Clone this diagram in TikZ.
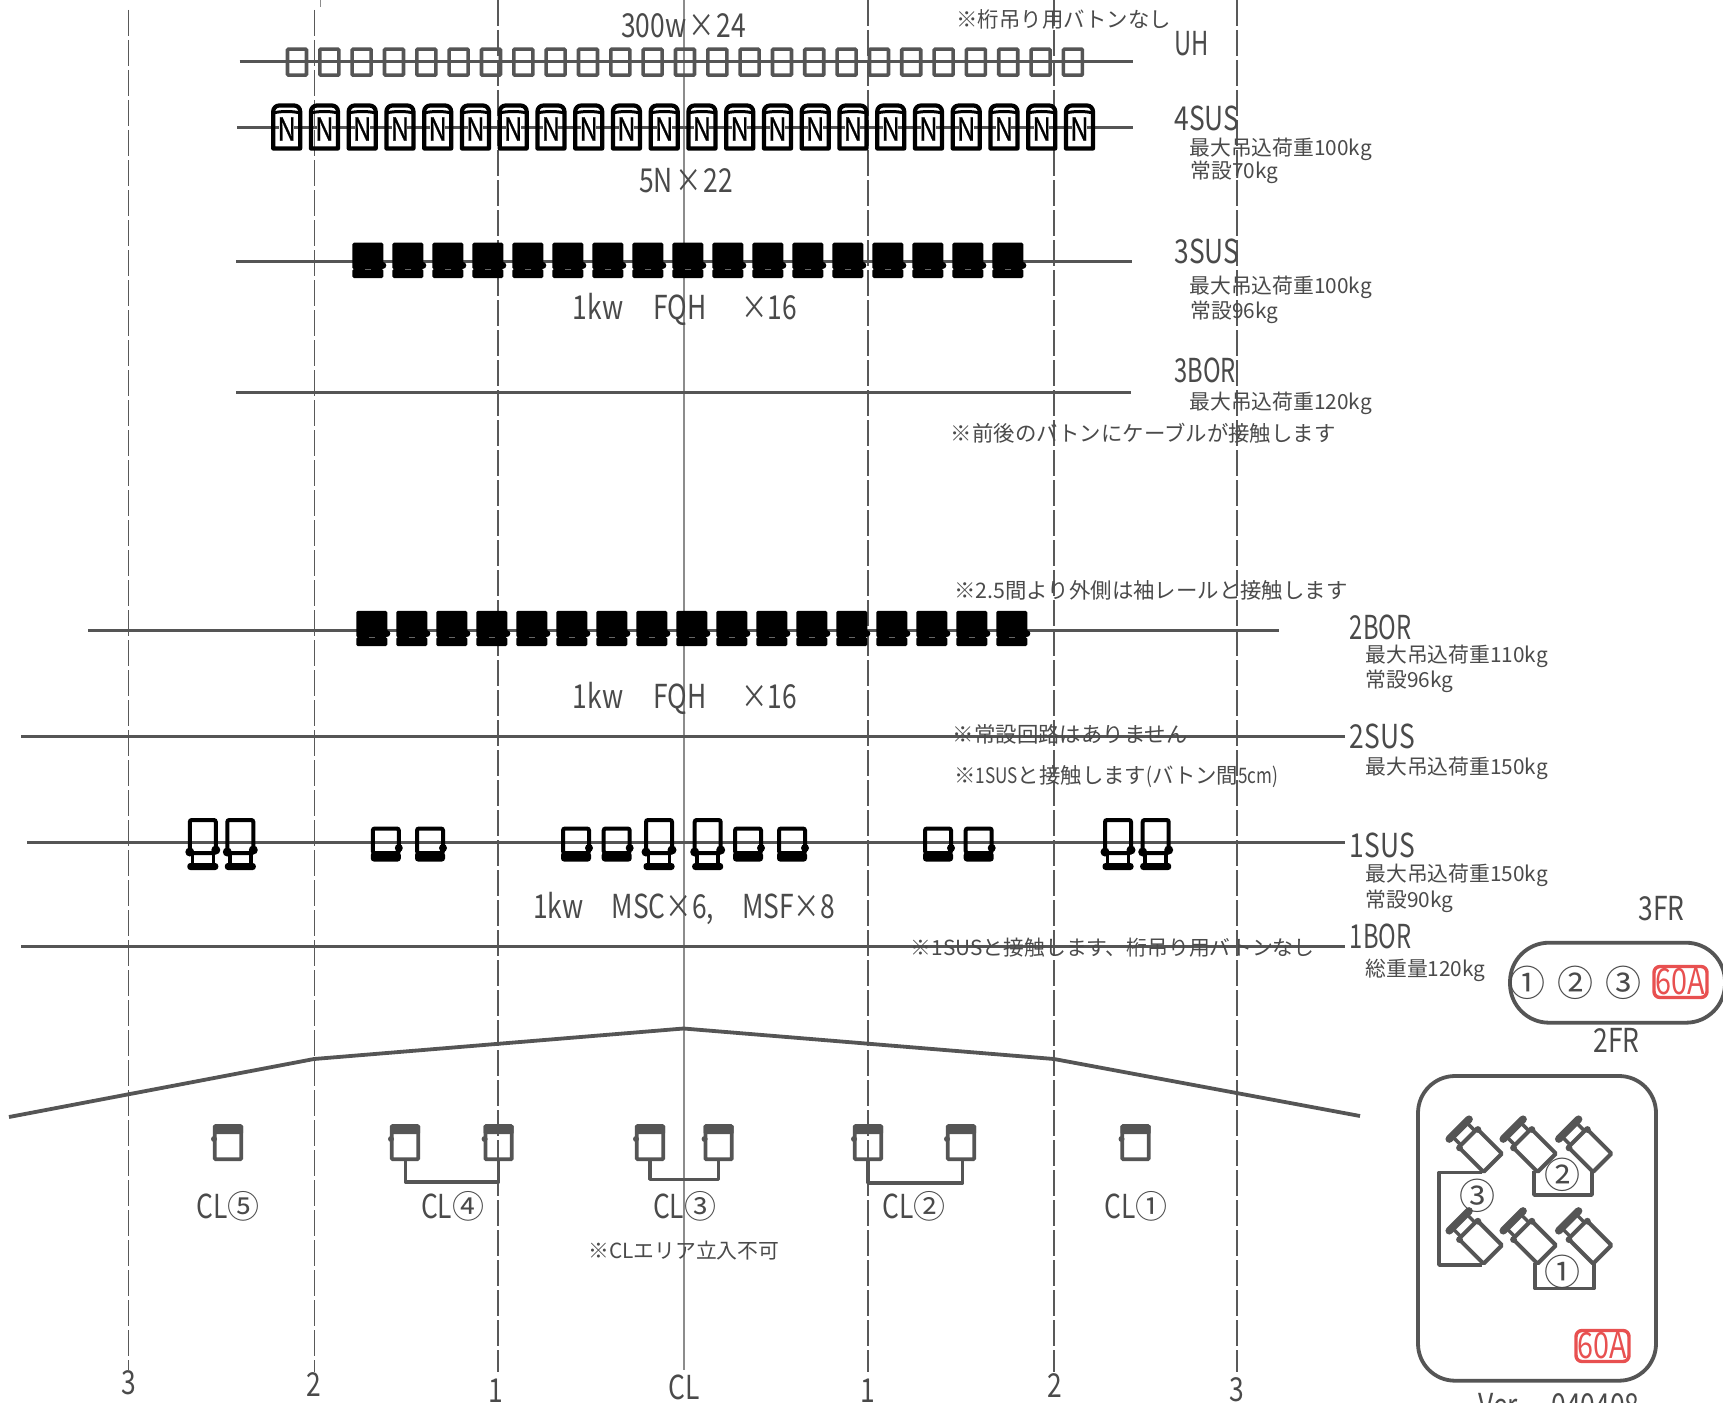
\documentclass[tikz,border=0pt]{standalone}
\usepackage{fontspec}
\newfontfamily\jpn{Noto Sans CJK JP}
\newfontfamily\jpw[FakeStretch=0.8]{Noto Sans CJK JP}
\newfontfamily\jpv[FakeStretch=0.72]{Noto Sans CJK JP}
\newfontfamily\jpb[FakeStretch=0.8,FakeBold=0.6]{Noto Sans CJK JP}
\definecolor{ink}{HTML}{4A4A4A}
\definecolor{lineink}{HTML}{555555}
\definecolor{warn}{HTML}{E85050}
\newcommand{\circd}[1]{{\jpn\fontsize{16}{16}\selectfont #1}}
\newcommand{\tms}{\hspace{1pt}×\hspace{1pt}}
\newcommand{\nrw}[1]{{\jpw\fontsize{10.7}{10.7}\selectfont #1}}
\tikzset{
  x=0.5pt,y=-0.5pt,
  big/.style={font=\jpw\fontsize{16.5}{16.5}\selectfont,text=ink,inner sep=0pt},
  bign/.style={font=\jpv\fontsize{16.5}{16.5}\selectfont,text=ink,inner sep=0pt},
  small/.style={font=\jpn\fontsize{10.4}{10.4}\selectfont,text=ink,inner sep=0pt},
  notetxt/.style={font=\jpn\fontsize{10.7}{10.7}\selectfont,text=ink,inner sep=0pt},
  circ/.style={font=\jpn\fontsize{18}{18}\selectfont,text=ink,inner sep=0pt},
  amp/.style={font=\jpw\fontsize{18}{18}\selectfont,text=warn,draw=warn,line width=1.7pt,rounded corners=3pt,inner sep=0pt,minimum width=26.5pt,minimum height=15.5pt},
  batten/.style={draw=lineink,line width=1.5pt},
  axisline/.style={draw=black!65,line width=0.7pt,dash pattern=on 13pt off 2pt},
  centreline/.style={draw=black!45,line width=0.7pt},
  wire/.style={draw=lineink,line width=1.8pt,line join=round},
  frameline/.style={draw=lineink,line width=1.9pt},
  uhbox/.pic={\draw[lineink,line width=1.8pt,rounded corners=0.5pt] (-9.5,-13) rectangle (9.5,13);},
  nunit/.pic={
    \draw[black,line width=2.1pt,line join=round] (-13.5,21.5) [rounded corners=3pt] -- (-13.5,-21.5) -- (13.5,-21.5) [sharp corners] -- (13.5,21.5) -- cycle;
    \draw[black,line width=1.5pt] (-13.5,-14) .. controls (-6,-16) and (6,-16) .. (13.5,-14);
    \fill[white] (-7.5,-11) rectangle (7.5,14.5);
    \node[font=\jpb\fontsize{16}{16}\selectfont,text=black,inner sep=0pt] (lab) at (0,2) {N};
  },
  fqh/.pic={
    \fill[black,rounded corners=0.8pt] (-15.5,-17.7) rectangle (15.5,9);
    \fill[black,rounded corners=0.8pt] (-15.5,8.5) rectangle (15.5,17.7);
    \fill[black] (15,5) circle (3.5);
    \draw[black!60,line width=0.3pt] (-3,8.8) -- (3,8.8);
  },
  tallunit/.pic={
    \draw[black,line width=2pt,rounded corners=1pt] (-13,-24) rectangle (13,9);
    \fill[black] (-13,8) circle (4.5) (13,6) circle (4.5);
    \draw[black,line width=1.8pt] (-10.5,9) -- (-10.5,20) (10.5,9) -- (10.5,20);
    \fill[black,rounded corners=1.5pt] (-15.5,19) rectangle (15.5,26);
  },
  shortunit/.pic={
    \draw[black,line width=2pt,rounded corners=1pt] (-13,-15.5) rectangle (13,9);
    \fill[black] (13,4) circle (4);
    \fill[black,rounded corners=1.5pt] (-15,8) rectangle (15,17.5);
  },
  clunit/.pic={
    \draw[lineink,line width=1.9pt,rounded corners=0.5pt] (-13.2,-17) rectangle (13.2,16.3);
    \fill[lineink,rounded corners=0.5pt] (-15,-18) rectangle (15,-9);
    \fill[lineink] (-14,-4) circle (3);
  },
  lamp/.pic={
    \draw[lineink,line width=2pt,rounded corners=0.5pt] (-13,-17) rectangle (13,18);
    \draw[lineink,line width=1.7pt] (-10,-17) -- (-10,-29) (10,-17) -- (10,-29);
    \draw[lineink,line width=3.8pt,line cap=round] (-14,-29.5) -- (14,-29.5);
    \fill[lineink] (-13,-16) circle (3.4) (13,-16) circle (3.4);
  },
}
\begin{document}
\begin{tikzpicture}
\useasboundingbox (0,0) rectangle (1723,1402);
\clip (0,0) rectangle (1723,1402);
\fill[white] (0,0) rectangle (1723,1402);

% axis lines
\draw[axisline] (128.6,10) -- (128.6,1370);
\draw[axisline] (314.3,10) -- (314.3,1372);
\draw[draw=black!45,line width=0.7pt] (320.5,0) -- (320.5,7);
\draw[axisline] (498,0) -- (498,1372);
\draw[centreline] (684,0) -- (684,1370);
\draw[axisline] (868,0) -- (868,1372);
\draw[axisline] (1054,0) -- (1054,1372);
\draw[axisline] (1237,0) -- (1237,1372);

% battens
\draw[batten] (239.5,62) -- (1133,62);
\draw[batten] (237,128) -- (1133,128);
\draw[batten] (236,261) -- (1132,261);
\draw[batten] (236,392) -- (1131,392);
\draw[batten] (88,630) -- (1279,630);
\draw[batten] (21,736) -- (1345,736);
\draw[batten] (27,842) -- (1345,842);
\draw[batten] (21,946) -- (1345,946);

% UH
\foreach \i in {0,...,24} \pic (uh\i) at ({297+\i*32.33},62.2) {uhbox};
% 4SUS
\foreach \i in {0,...,21} \pic (nu\i) at ({286.7+\i*37.75},127) {nunit};
% 3SUS
\foreach \i in {0,...,16} \pic (fa\i) at ({367.8+\i*40},260.4) {fqh};
% 2BOR
\foreach \i in {0,...,16} \pic (fb\i) at ({371.8+\i*40},628.5) {fqh};
% 1SUS
\foreach \i/\xx in {1/202.8,2/240.3,3/659,4/707.7,5/1118,6/1155.7}
  \pic (tu\i) at (\xx,844) {tallunit};
\foreach \i/\xx in {1/385.8,2/430,3/576,4/616.7,5/748,6/792,7/938,8/978.7}
  \pic (su\i) at (\xx,844) {shortunit};
% CL
\foreach \i/\xx in {1/228,2/405,3/498.6,4/650,5/718.6,6/868,7/961,8/1135.5}
  \pic (cu\i) at (\xx,1143) {clunit};
\coordinate (cla) at (405.4,1160);
\coordinate (clb) at (498.6,1160);
\coordinate (clc) at (650,1160);
\coordinate (cld) at (718.6,1160);
\coordinate (cle) at (868,1160);
\coordinate (clf) at (962.5,1160);
\draw[wire] (cla) -- ++(0,21.7) -| (clb);
\draw[wire] (clc) -- ++(0,19.3) -| (cld);
\draw[wire] (cle) -- ++(0,23) -| (clf);

% roof
\draw[lineink,line width=1.9pt,line join=round] (9,1117) -- (314,1059) -- (683.5,1028.5) -- (1054,1059) -- (1360,1116);

% 3FR
\draw[frameline,rounded corners=19.5pt] (1510,942.7) rectangle (1725,1022.7);
\node[circ] (fr31) at (1527.7,982.7) {①};
\node[circ] (fr32) at (1575,982.7) {②};
\node[circ] (fr33) at (1623,982.7) {③};
\node[amp] (fr3a) at (1680.5,982) {60A};
\node[big] (fr3t) at (1661.7,909) {3FR};
\node[big] (fr2t) at (1616.7,1040) {2FR};

% 2FR
\draw[frameline,rounded corners=18.5pt] (1418,1076) rectangle (1656,1380.7);
\foreach \i/\xx/\yy in {1/1480/1150,2/1534/1150,3/1589.5/1150,4/1480/1241.7,5/1534/1241.7,6/1589.5/1241.7}
  \pic[rotate=45] (la\i) at (\xx,\yy) {lamp};
\coordinate (w3a) at (1481.7,1172.5);
\coordinate (w3b) at (1481.7,1265);
\coordinate (w3c) at (1439,1172.5);
\coordinate (w2a) at (1534,1171);
\coordinate (w2b) at (1592,1171);
\coordinate (w1a) at (1535,1263);
\coordinate (w1b) at (1594,1263);
\draw[wire] (w3a) -- (w3c) |- (w3b);
\draw[wire] (w2a) -- ++(0,24) -| (w2b);
\draw[wire] (w1a) -- ++(0,25.5) -| (w1b);
\node[circ] (c2) at (1562.7,1175) {②};
\node[circ] (c1) at (1562.7,1272) {①};
\node[circ] (c3) at (1477.7,1196) {③};
\node[amp] (fr2a) at (1602.5,1346) {60A};
\node[big,anchor=north] (ver) at (1559,1393) {Ver.\hspace{14pt}040408};

% upper labels
\node[big] (t300) at (683.5,26) {300w\tms 24};
\node[notetxt,anchor=west] (tn1) at (956,19) {※桁吊り用バトンなし};
\node[bign,anchor=west] (tuh) at (1174,44) {UH};
\node[big,anchor=west] (t4s) at (1174,118) {4SUS};
\node[small,anchor=west] (t4a) at (1189,149) {最大吊込荷重100kg};
\node[small,anchor=west] (t4b) at (1190,172) {常設70kg};
\node[big] (t5n) at (686,181) {5N\tms 22};
\node[big,anchor=west] (t3s) at (1174,251) {3SUS};
\node[small,anchor=west] (t3a) at (1189,287) {最大吊込荷重100kg};
\node[small,anchor=west] (t3b) at (1190,312) {常設96kg};
\node[big] (tf1) at (685,309.5) {1kw\hspace{15pt}FQH\hspace{17.5pt}×16};
\node[bign,anchor=west] (t3o) at (1174,370) {3BOR};
\node[small,anchor=west] (t3c) at (1189,403) {最大吊込荷重120kg};
\node[notetxt,anchor=west] (tn2) at (950.5,433) {※前後のバトンにケーブルが接触します};
\node[notetxt,anchor=west] (tn3) at (954,590) {※2.5間より外側は袖レールと接触します};
\node[bign,anchor=west] (t2o) at (1349.5,627.5) {2BOR};
\node[small,anchor=west] (t2a) at (1365,656) {最大吊込荷重110kg};
\node[small,anchor=west] (t2b) at (1365,681) {常設96kg};
\node[big] (tf2) at (685,698) {1kw\hspace{15pt}FQH\hspace{17.5pt}×16};
\node[notetxt,anchor=west] (tn4) at (952.5,734) {※常設回路はありません};
\node[big,anchor=west] (t2s) at (1349.5,736) {2SUS};
\node[small,anchor=west] (t2c) at (1365,768) {最大吊込荷重150kg};
\node[notetxt,anchor=west] (tn5) at (954,777) {※\nrw{1SUS}と接触します\nrw{(}バトン間\nrw{5cm)}};
\node[big,anchor=west] (t1s) at (1349.5,845) {1SUS};
\node[small,anchor=west] (t1a) at (1365,875.6) {最大吊込荷重150kg};
\node[small,anchor=west] (t1b) at (1365,901) {常設90kg};
\node[big] (tm) at (684,908) {1kw\hspace{14pt}MSC×6,\hspace{14pt}MSF×8};
\node[bign,anchor=west] (t1o) at (1349.5,936) {1BOR};
\node[small,anchor=west] (t1c) at (1365,970) {総重量120kg};
\node[small,anchor=west] (tn6) at (910.5,948) {※1SUSと接触します、桁吊り用バトンなし};
\node[big] (cl5) at (228,1206.6) {CL\circd{⑤}};
\node[big] (cl4) at (452.7,1206.6) {CL\circd{④}};
\node[big] (cl3) at (684.6,1206.6) {CL\circd{③}};
\node[big] (cl2) at (914,1206.6) {CL\circd{②}};
\node[big] (cl1) at (1136,1206.6) {CL\circd{①}};
\node[small,anchor=west] (tn7) at (588,1250.6) {※CLエリア立入不可};

% axis labels
\node[big] (a1) at (128.6,1383) {3};
\node[big] (a2) at (313.5,1385) {2};
\node[big] (a3) at (496,1391) {1};
\node[big] (a4) at (684,1387) {CL};
\node[big] (a5) at (868,1391) {1};
\node[big] (a6) at (1055,1386) {2};
\node[big] (a7) at (1237,1390) {3};
\end{tikzpicture}
\end{document}
